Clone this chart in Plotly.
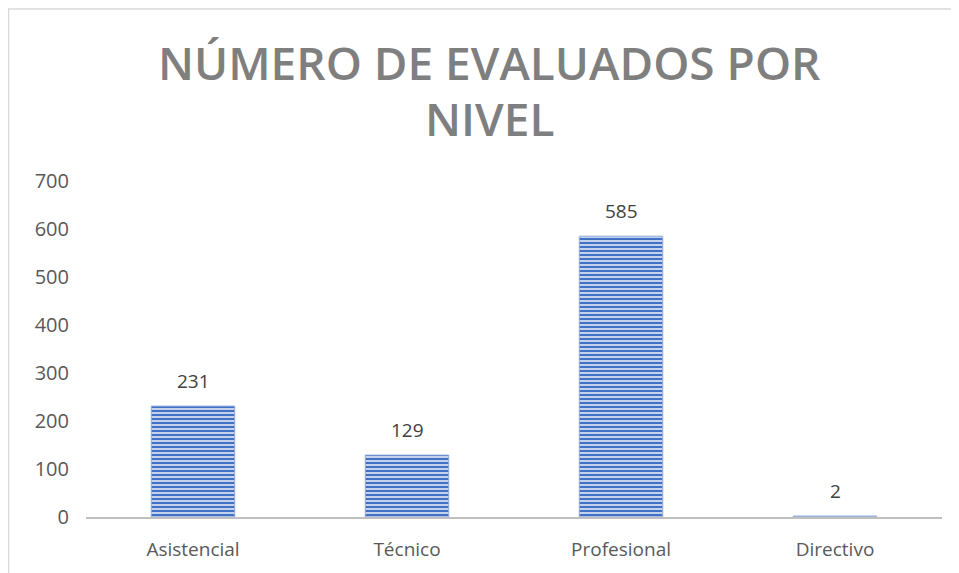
import plotly.graph_objects as go

categories = ["Asistencial", "Técnico", "Profesional", "Directivo"]
values = [231, 129, 585, 2]
title_lines = ["NÚMERO DE EVALUADOS POR", "NIVEL"]

fig = go.Figure()
fig.add_trace(go.Bar(
    x=categories, y=values,
    marker=dict(
        color="#cdd9f0",
        line=dict(color="#8faadc", width=1),
        pattern=dict(shape="-", fgcolor="#4170c4", bgcolor="#d2ddf2", size=4, solidity=0.55,
                     fgopacity=1),
    ),
    width=0.39,
    hoverinfo="skip",
))

for c, v in zip(categories, values):
    fig.add_annotation(x=c, y=v, text=str(v), showarrow=False, yshift=25,
                       font=dict(family="Open Sans", size=19, color="#404040"))

for line, py in zip(title_lines, [1.354, 1.1875]):
    fig.add_annotation(xref="paper", yref="paper", x=0.471, y=py, text=line,
                       showarrow=False, xanchor="center", yanchor="middle",
                       font=dict(family="Open Sans", size=46, color="#7f7f7f", weight=600))

fig.update_layout(
    width=951, height=565,
    margin=dict(l=78, r=17, t=173, b=56),
    paper_bgcolor="white", plot_bgcolor="white",
    showlegend=False,
    xaxis=dict(showline=True, linecolor="#bfbfbf", linewidth=2, showgrid=False,
               ticks="", tickfont=dict(family="Open Sans", size=19, color="#595959"),
               ticklabelstandoff=14),
    yaxis=dict(range=[0, 700], dtick=100, showgrid=False, zeroline=False, showline=False,
               ticks="", tickfont=dict(family="Open Sans", size=20, color="#595959"),
               ticklabelstandoff=16),
    shapes=[dict(type="rect", xref="paper", yref="paper", x0=-0.0905, x1=1.02, y0=-0.3, y1=1.512,
                 line=dict(color="#d9d9d9", width=1.5), fillcolor="rgba(0,0,0,0)", layer="below")],
)

fig.write_html("out.html")
